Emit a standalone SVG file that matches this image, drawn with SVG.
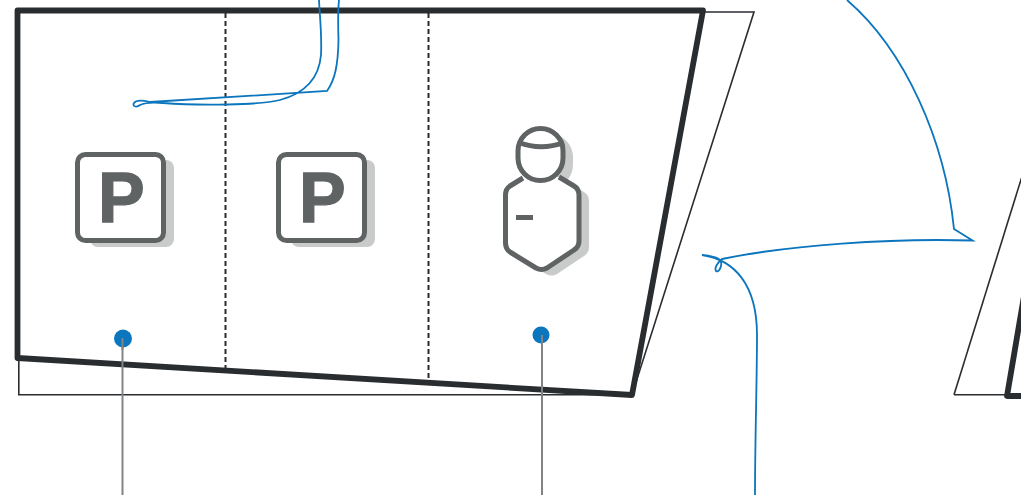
<svg xmlns="http://www.w3.org/2000/svg" width="1033" height="495" viewBox="0 0 1033 495">
<style>
.frame{fill:none;stroke:#2a2d30;stroke-width:5.800;stroke-linejoin:round}
.thin{fill:none;stroke:#2a2d30;stroke-width:1.600}
.dash{fill:none;stroke:#2a2d30;stroke-width:2;stroke-dasharray:5 3}
.blue{fill:none;stroke:#0b75bd;stroke-width:1.800}
.lead{fill:none;stroke:#808486;stroke-width:2}
.dot{fill:#0b75bd}
.shadow{fill:#c8cbca}
.icon{fill:#fff;stroke:#5f6363;stroke-width:5;stroke-linejoin:round}
.iconline{fill:none;stroke:#5f6363;stroke-width:5}
.p{font-family:"Liberation Sans",Arial,sans-serif;font-weight:700;font-size:70px;fill:#5f6363;stroke:#5f6363;stroke-width:1.300}
</style>
<defs>
<clipPath id="edge"><rect x="0" y="0" width="1021" height="495"/></clipPath>
<path id="body" d="M523 178 L510 186 Q505.500 189 505.500 195 L505.500 243 Q505.500 249 510 252 L536 268 Q541.500 271 547 268 L574 250 Q579 247 579 241 L579 195 Q579 189 574 186 L559 177"/>
</defs>
<rect width="1033" height="495" fill="#fff"/>
<g id="building-back">
<path class="thin" d="M18.800 358 V394.800 H632 L754 12 H703"/>
</g>
<g id="building-front">
<path class="frame" d="M17.500 10.500 H703 L632 395 L17.500 358 Z"/>
<path class="dash" d="M225.500 13 V369"/>
<path class="dash" d="M428.500 13 V379"/>
</g>
<g id="building-right" clip-path="url(#edge)">
<path class="thin" d="M954 394.800 L1021.500 178"/>
<path class="thin" d="M954 394.800 H1007"/>
<path class="frame" d="M1031 255 L1007 396 H1030"/>
</g>
<g id="parking-1">
<rect class="shadow" x="90" y="160" width="84" height="87" rx="8"/>
<rect class="icon" x="77.500" y="154.500" width="86" height="86" rx="8"/>
<text class="p" x="98" y="221.500">P</text>
</g>
<g id="parking-2">
<rect class="shadow" x="291" y="160" width="84" height="87" rx="8"/>
<rect class="icon" x="278.500" y="154.500" width="86" height="86" rx="8"/>
<text class="p" x="299" y="221.500">P</text>
</g>
<g id="attendant">
<use href="#body" class="shadow" x="10" y="6"/>
<rect class="shadow" x="526" y="134" width="47" height="54" rx="23"/>
<use href="#body" class="icon"/>
<rect class="icon" x="518" y="128.500" width="45" height="52" rx="22.500"/>
<path class="iconline" d="M519 142.500 Q541 151 564 142.500"/>
<rect x="516" y="215" width="17" height="5" fill="#5f6363"/>
</g>
<g id="connectors">
<path class="blue" d="M319 0 C320 20 322 35 321 55 C319 78 306 93 280 100 C260 105 200 106 163 103 C152 102 144 103 140 105 C136 108 132 106 134 103 C136 100 142 100 150 102 L327 91 C335 80 338 65 338.500 40 C338 25 338 10 339 0"/>
<path class="blue" d="M847 0 C905 50 945 140 954 229 L972.500 240.500 C890 238 790 245 722 259 C718 262 714 268 716 271 C719 273 722 266 721 262 C720 258 712 256 702 255 C735 260 757 285 757 335 C757 380 755 440 755 495"/>
<path class="lead" d="M122.500 338 V495"/>
<path class="lead" d="M542 335 V495"/>
</g>
<g id="marker-1"><circle class="dot" cx="123" cy="338.500" r="9"/><path class="lead" d="M122.500 338 V350"/></g>
<g id="marker-2"><circle class="dot" cx="541" cy="335" r="8.500"/><path class="lead" d="M542 335 V345"/></g>
</svg>
